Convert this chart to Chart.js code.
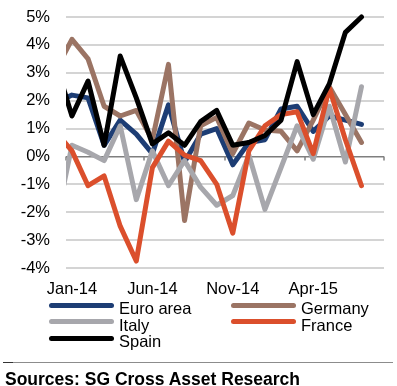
<!DOCTYPE html>
<html>
<head>
<meta charset="utf-8">
<script src="https://cdn.jsdelivr.net/npm/chart.js@4.4.1/dist/chart.umd.min.js"></script>
<style>
  html, body { margin: 0; padding: 0; background: #fff; }
  body { width: 397px; height: 386px; position: relative; overflow: hidden;
         font-family: 'Liberation Sans', Arial, sans-serif; }
  #wrap { position: absolute; left: 0; top: 0; width: 397px; height: 300px; }
  .leg-line { position: absolute; width: 65px; height: 5px; border-radius: 3px; }
  .leg-text { position: absolute; font-size: 16.5px; line-height: 16.5px; color: #000; white-space: nowrap; }
  #rule { position: absolute; left: 3px; top: 362px; width: 390px; height: 1px; background: #8c8c8c; }
  #rule-dark { position: absolute; left: 3px; top: 362px; width: 10px; height: 1px; background: #333; }
  #source { position: absolute; left: 5px; top: 371px; font-size: 17.5px; line-height: 17px;
            font-weight: bold; color: #000; white-space: nowrap; }
</style>
</head>
<body>
<div id="wrap"><canvas id="lineChart"></canvas></div>
<div id="legend"></div>
<div id="rule"></div><div id="rule-dark"></div>
<div id="source">Sources: SG Cross Asset Research</div>

<script>
// meses (Dec-13 fica fora da área, só o começo da linha aparece)
const months = ['Dec-13', 'Jan-14', 'Feb-14', 'Mar-14', 'Apr-14', 'May-14', 'Jun-14', 'Jul-14',
  'Aug-14', 'Sep-14', 'Oct-14', 'Nov-14', 'Dec-14', 'Jan-15', 'Feb-15', 'Mar-15',
  'Apr-15', 'May-15', 'Jun-15', 'Jul-15'];

const euroArea = [1.93, 2.2, 2.1, 0.4, 1.3, 0.8, 0.1, 1.85, -0.2, 0.8, 1.0, -0.3, 0.5, 0.6, 1.7, 1.8, 0.9, 1.45, 1.3, 1.15];
const germany  = [3.1, 4.2, 3.5, 1.8, 1.45, 1.65, 0.6, 3.3, -2.3, 1.1, 1.4, 0.1, 1.2, 0.95, 0.9, 0.2, 1.3, 2.5, 1.5, 0.5];
const italy    = [-2.4, 0.4, 0.15, -0.15, 1.1, -1.55, 0.2, -1.05, -0.15, -1.1, -1.75, -1.4, 0.05, -1.9, -0.4, 1.1, -0.1, 1.8, -0.2, 2.5];
const france   = [0.87, 0.2, -1.05, -0.7, -2.5, -3.75, -0.4, 0.55, 0.05, -0.15, -1.0, -2.75, 0.2, 1.1, 1.5, 1.6, 0.1, 2.45, 0.6, -1.05];
const spain    = [3.33, 1.45, 2.7, 0.4, 3.6, 2.1, 0.45, 0.85, 0.4, 1.25, 1.65, 0.4, 0.5, 0.75, 1.3, 3.4, 1.5, 2.6, 4.45, 5.0];

const xTickLabels = ['Jan-14', 'Jun-14', 'Nov-14', 'Apr-15'];
const yTickValues = [-4, -3, -2, -1, 0, 1, 2, 3, 4, 5];

const seriesCores = {
  'Euro area': '#1d3d74',
  'Germany':   '#9b7464',
  'Italy':     '#a7a7ac',
  'France':    '#db4f2c',
  'Spain':     '#000000',
};

const FONT = "'Liberation Sans', Arial, sans-serif";

// x = posição do mês (Jan-14 = 0)
const toPoints = vals => vals.map((v, i) => ({ x: i - 1, y: v }));

function makeDataset(label, vals, order) {
  return {
    label: label,
    data: toPoints(vals),
    borderColor: seriesCores[label],
    borderWidth: 5,
    pointRadius: 0,
    tension: 0,
    borderJoinStyle: 'round',
    borderCapStyle: 'round',
    clip: { left: 0, top: 5, right: 5, bottom: 5 },
    order: order,
  };
}

// marquinhas no eixo zero, a cada 5 meses
const zeroTicks = {
  id: 'zeroTicks',
  beforeDatasetsDraw(chart) {
    const { ctx, scales: { x, y } } = chart;
    const y0 = y.getPixelForValue(0);
    ctx.save();
    ctx.strokeStyle = '#7f7f7f';
    ctx.lineWidth = 1.5;
    [x.min, 4.5, 9.5, 14.5, x.max].forEach(v => {
      const px = Math.round(x.getPixelForValue(v));
      ctx.beginPath();
      ctx.moveTo(px, y0);
      ctx.lineTo(px, y0 + 4);
      ctx.stroke();
    });
    ctx.restore();
  }
};

const ctx = document.getElementById('lineChart').getContext('2d');

new Chart(ctx, {
  type: 'line',
  data: {
    datasets: [
      makeDataset('Euro area', euroArea, 5),
      makeDataset('Germany', germany, 4),
      makeDataset('Italy', italy, 3),
      makeDataset('France', france, 2),
      makeDataset('Spain', spain, 1),
    ]
  },
  options: {
    responsive: true,
    maintainAspectRatio: false,
    animation: false,
    layout: { padding: { top: 17, right: 13, left: 0, bottom: 0 } },
    plugins: {
      legend: { display: false },
      tooltip: { enabled: false },
    },
    scales: {
      x: {
        type: 'linear',
        min: -0.37,
        max: 19.4,
        grid: { display: false, drawTicks: false },
        border: { display: false },
        afterBuildTicks: scale => {
          scale.ticks = xTickLabels.map(l => ({ value: months.indexOf(l) - 1 }));
        },
        afterFit: scale => { scale.height = 32; },
        ticks: {
          autoSkip: false,
          maxRotation: 0,
          padding: 12,
          color: '#000',
          font: { family: FONT, size: 16.5 },
          callback: v => months[v + 1],
        }
      },
      y: {
        min: -4,
        max: 5,
        afterBuildTicks: scale => {
          scale.ticks = yTickValues.map(v => ({ value: v }));
        },
        afterFit: scale => {
          scale.width = 66;
          scale.paddingTop = 8;
          scale.paddingBottom = 8;
        },
        grid: {
          drawTicks: false,
          color: c => c.tick.value === 0 ? '#7f7f7f' : '#d4d4d4',
          lineWidth: c => c.tick.value === 0 ? 1.5 : 2,
        },
        border: { display: false },
        ticks: {
          padding: 16,
          color: '#000',
          font: { family: FONT, size: 16.5 },
          callback: v => v + '%',
        }
      }
    }
  },
  plugins: [zeroTicks]
});

// Legend manual
const legendItems = [
  { label: 'Euro area', col: 0, row: 0 },
  { label: 'Germany',   col: 1, row: 0 },
  { label: 'Italy',     col: 0, row: 1 },
  { label: 'France',    col: 1, row: 1 },
  { label: 'Spain',     col: 0, row: 2 },
];
const colLine = [49, 231];
const colText = [119, 301];
const rowTop = [300, 316.7, 333.3];

document.getElementById('legend').innerHTML = legendItems.map(i => `
  <div class="leg-line" style="left:${colLine[i.col]}px;top:${rowTop[i.row] + 2.5}px;background:${seriesCores[i.label]}"></div>
  <div class="leg-text" style="left:${colText[i.col]}px;top:${rowTop[i.row]}px">${i.label}</div>
`).join('');
</script>
</body>
</html>
